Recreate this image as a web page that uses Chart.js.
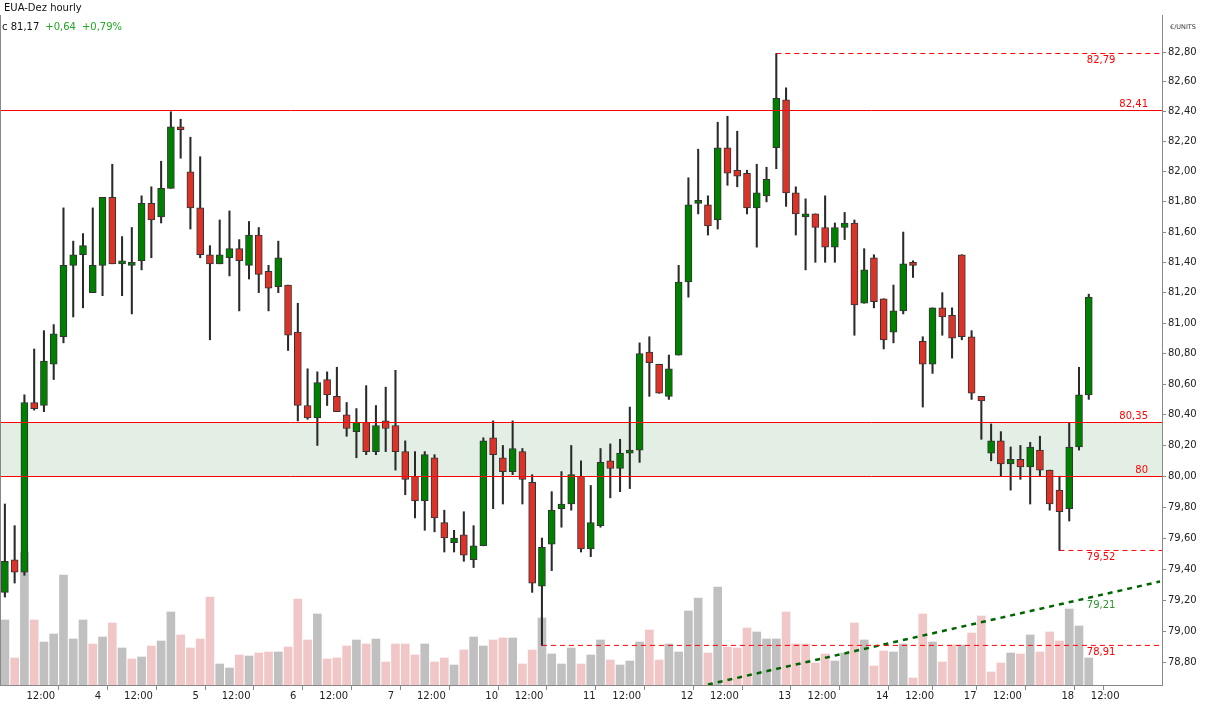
<!DOCTYPE html>
<html>
<head>
<meta charset="utf-8">
<title>EUA-Dez hourly</title>
<script src="https://cdn.jsdelivr.net/npm/chart.js@4.4.1/dist/chart.umd.min.js"></script>
<style>
  html, body { margin: 0; padding: 0; background: #fff; }
</style>
</head>
<body>
<canvas id="chart" width="1206" height="705"></canvas>
<script>
// hourly candles, index 0 = day 3 10:00, last = day 18 12:00
const opens = [
  79.25, 79.46, 79.38, 80.48, 80.46, 80.73, 80.91, 81.38, 81.45, 81.20,
  81.38, 81.83, 81.39, 81.38, 81.41, 81.79, 81.70, 81.89, 82.30, 82.00,
  81.76, 81.45, 81.39, 81.43, 81.49, 81.38, 81.58, 81.34, 81.24, 81.25,
  80.94, 80.46, 80.38, 80.63, 80.52, 80.40, 80.29, 80.35, 80.16, 80.36,
  80.33, 80.16, 80.00, 79.84, 80.12, 79.70, 79.57, 79.62, 79.46, 79.55,
  80.25, 80.12, 80.03, 80.16, 79.96, 79.29, 79.56, 79.79, 79.82, 80.00,
  79.53, 79.68, 80.10, 80.05, 80.15, 80.17, 80.81, 80.73, 80.52, 80.79,
  81.27, 81.79, 81.78, 81.68, 82.16, 82.01, 81.99, 81.76, 81.84, 82.16,
  82.48, 81.86, 81.70, 81.72, 81.63, 81.50, 81.63, 81.66, 81.13, 81.43,
  81.16, 80.94, 81.08, 81.39, 80.88, 80.73, 81.10, 81.05, 81.45, 80.91,
  80.52, 80.15, 80.23, 80.08, 80.11, 80.06, 80.17, 80.04, 79.91, 79.79,
  80.19, 80.53
];
const highs = [
  79.82, 79.68, 80.53, 80.83, 80.95, 80.99, 81.76, 81.54, 81.59, 81.76,
  81.83, 82.05, 81.57, 81.63, 81.84, 81.90, 82.07, 82.40, 82.35, 82.23,
  82.10, 81.51, 81.68, 81.74, 81.55, 81.67, 81.63, 81.38, 81.54, 81.25,
  81.13, 80.70, 80.68, 80.68, 80.71, 80.48, 80.44, 80.59, 80.46, 80.58,
  80.69, 80.23, 80.16, 80.16, 80.14, 79.78, 79.65, 79.77, 79.68, 80.25,
  80.36, 80.20, 80.36, 80.18, 80.01, 79.60, 79.90, 80.03, 80.20, 80.10,
  79.94, 80.18, 80.21, 80.24, 80.45, 80.87, 80.91, 80.73, 80.79, 81.38,
  81.96, 82.15, 81.84, 82.33, 82.37, 82.27, 82.01, 82.05, 82.03, 82.79,
  82.56, 81.90, 81.82, 81.72, 81.84, 81.66, 81.73, 81.68, 81.49, 81.45,
  81.16, 81.25, 81.60, 81.41, 80.91, 81.10, 81.20, 81.10, 81.45, 80.95,
  80.52, 80.34, 80.29, 80.19, 80.20, 80.22, 80.26, 80.04, 80.00, 80.35,
  80.71, 81.19
];
const lows = [
  79.22, 79.31, 79.36, 80.43, 80.42, 80.63, 80.87, 81.04, 81.10, 81.20,
  81.18, 81.39, 81.18, 81.06, 81.35, 81.43, 81.66, 81.89, 82.09, 81.62,
  81.43, 80.89, 81.39, 81.31, 81.08, 81.29, 81.20, 81.08, 81.20, 80.82,
  80.36, 80.37, 80.20, 80.46, 80.42, 80.26, 80.12, 80.14, 80.14, 80.16,
  80.04, 79.88, 79.73, 79.65, 79.64, 79.51, 79.51, 79.45, 79.41, 79.55,
  79.79, 79.82, 80.01, 79.82, 79.25, 78.91, 79.39, 79.67, 79.78, 79.51,
  79.48, 79.67, 79.86, 79.90, 79.92, 80.09, 80.52, 80.54, 80.50, 80.79,
  81.17, 81.72, 81.58, 81.62, 81.91, 81.90, 81.72, 81.50, 81.80, 82.02,
  81.77, 81.58, 81.35, 81.40, 81.40, 81.40, 81.55, 80.92, 81.13, 81.10,
  80.83, 80.87, 81.06, 81.30, 80.45, 80.67, 80.92, 80.77, 80.89, 80.50,
  80.24, 80.10, 80.00, 79.91, 79.98, 79.82, 80.00, 79.78, 79.52, 79.71,
  80.17, 80.50
];
const closes = [
  79.45, 79.38, 80.48, 80.44, 80.75, 80.93, 81.38, 81.45, 81.51, 81.38,
  81.83, 81.39, 81.41, 81.39, 81.79, 81.68, 81.89, 82.30, 82.28, 81.76,
  81.45, 81.39, 81.45, 81.49, 81.41, 81.58, 81.32, 81.23, 81.43, 80.92,
  80.46, 80.38, 80.61, 80.53, 80.42, 80.31, 80.35, 80.16, 80.33, 80.31,
  80.16, 79.98, 79.84, 80.14, 79.73, 79.60, 79.60, 79.49, 79.55, 80.23,
  80.14, 80.03, 80.18, 79.98, 79.31, 79.54, 79.78, 79.82, 80.01, 79.53,
  79.70, 80.09, 80.05, 80.15, 80.17, 80.80, 80.74, 80.54, 80.70, 81.27,
  81.78, 81.80, 81.64, 82.16, 81.99, 81.97, 81.76, 81.86, 81.95, 82.49,
  81.86, 81.72, 81.71, 81.63, 81.50, 81.63, 81.66, 81.12, 81.35, 81.14,
  80.89, 81.08, 81.39, 81.38, 80.73, 81.10, 81.04, 80.90, 80.91, 80.54,
  80.49, 80.23, 80.08, 80.11, 80.06, 80.19, 80.04, 79.82, 79.77, 80.19,
  80.53, 81.17
];
const volumes = [
  650, 270, 1330, 650, 430, 510, 1100, 460, 650, 410,
  480, 620, 370, 260, 280, 390, 440, 730, 500, 370,
  460, 880, 210, 170, 300, 290, 320, 330, 330, 380,
  860, 450, 710, 260, 270, 390, 450, 410, 460, 230,
  410, 410, 300, 410, 230, 270, 200, 350, 480, 390,
  450, 470, 470, 210, 350, 670, 310, 210, 370, 210,
  300, 450, 250, 200, 240, 430, 550, 250, 410, 330,
  740, 870, 320, 980, 380, 370, 570, 530, 460, 460,
  730, 410, 410, 220, 310, 240, 320, 620, 450, 190,
  340, 330, 410, 70, 710, 430, 230, 400, 400, 520,
  690, 130, 220, 320, 310, 500, 330, 530, 440, 760,
  590, 270
];

// x-axis labels at candle index
const tickPos = [2, 9, 12, 19, 22, 29, 32, 39, 42, 49, 52, 59, 62, 69, 72, 79, 82, 89, 92, 98, 101, 108, 111];
const tickText = ['12:00', '4', '12:00', '5', '12:00', '6', '12:00', '7', '12:00', '10', '12:00', '11', '12:00',
  '12', '12:00', '13', '12:00', '14', '12:00', '17', '12:00', '18', '12:00'];
const priceTicks = [78.8, 79.0, 79.2, 79.4, 79.6, 79.8, 80.0, 80.2, 80.4, 80.6, 80.8,
  81.0, 81.2, 81.4, 81.6, 81.8, 82.0, 82.2, 82.4, 82.6, 82.8];

// horizontal levels
const zoneLow = 80.00;
const zoneHigh = 80.35;
const resistance = 82.41;
const markIdx = [79, 108, 55];
const markLevel = [82.79, 79.52, 78.91];
const trendX = [72, 118.3];
const trendY = [78.66, 79.32];
const trendLabel = 79.21;

const lastClose = 81.17;
const change = 0.64;
const changePct = 0.79;

const fmt = v => v.toFixed(2).replace('.', ',');
const FONT = 'DejaVu Sans';

const idx = opens.map((_, i) => i);
const bodies = idx.map(i => ({ x: i, y: [opens[i], closes[i]] }));
const wicks = idx.map(i => ({ x: i, y: [lows[i], highs[i]] }));
const vols = idx.map(i => ({ x: i, y: volumes[i] }));
const bodyColors = idx.map(i => closes[i] >= opens[i] ? '#008000' : '#dc3328');
const volColors = idx.map(i => (i === 0 || closes[i] >= closes[i - 1]) ? '#c0c0c0' : '#f0c6c6');

const markSets = markIdx.map((m, k) => ({
  type: 'line',
  data: [{ x: m, y: markLevel[k] }, { x: 118.5, y: markLevel[k] }],
  borderColor: '#ff0000',
  borderWidth: 1,
  borderDash: [5, 4],
  pointRadius: 0,
  yAxisID: 'y'
}));

const overlay = {
  id: 'overlay',
  beforeDatasetsDraw(chart) {
    const { ctx, chartArea: a, scales: { y } } = chart;
    const t = y.getPixelForValue(zoneHigh);
    const b = y.getPixelForValue(zoneLow);
    ctx.save();
    ctx.fillStyle = '#e3eee4';
    ctx.fillRect(a.left, t, a.right - a.left, b - t);
    ctx.restore();
  },
  afterDatasetsDraw(chart) {
    const { ctx, chartArea: a, scales: { x, y } } = chart;
    ctx.save();

    // solid levels
    ctx.strokeStyle = '#ff0000';
    ctx.lineWidth = 1;
    [resistance, zoneHigh, zoneLow].forEach(v => {
      const py = Math.round(y.getPixelForValue(v)) + 0.5;
      ctx.beginPath();
      ctx.moveTo(a.left, py);
      ctx.lineTo(a.right, py);
      ctx.stroke();
    });

    // left border
    ctx.strokeStyle = '#888';
    ctx.beginPath();
    ctx.moveTo(a.left + 0.5, a.top);
    ctx.lineTo(a.left + 0.5, a.bottom);
    ctx.stroke();

    // level labels
    ctx.font = '10px "' + FONT + '"';
    ctx.fillStyle = '#ff0000';
    ctx.textAlign = 'right';
    ctx.textBaseline = 'bottom';
    [resistance, zoneHigh].forEach(v => ctx.fillText(fmt(v), a.right - 14, y.getPixelForValue(v) - 1));
    ctx.fillText('80', a.right - 14, y.getPixelForValue(zoneLow) - 1);

    const lx = x.getPixelForValue(111) - 2;
    ctx.textAlign = 'left';
    ctx.textBaseline = 'top';
    markLevel.forEach(v => ctx.fillText(fmt(v), lx, y.getPixelForValue(v) + 2));
    ctx.fillStyle = '#2e942e';
    ctx.fillText(fmt(trendLabel), lx, y.getPixelForValue(trendLabel) + 2);

    // header
    ctx.textBaseline = 'middle';
    ctx.fillStyle = '#111';
    ctx.fillText('EUA-Dez hourly', 4, 8);
    let tx = 2;
    const first = 'c ' + fmt(lastClose);
    ctx.fillText(first, tx, 27);
    tx += ctx.measureText(first).width + 6;
    ctx.fillStyle = '#22a822';
    const chg = '+' + fmt(change);
    ctx.fillText(chg, tx, 27);
    tx += ctx.measureText(chg).width + 6;
    ctx.fillText('+' + fmt(changePct) + '%', tx, 27);

    // unit
    ctx.fillStyle = '#333';
    ctx.font = '6.5px "' + FONT + '"';
    ctx.fillText('\u20ac/UNITS', a.right + 8, 27);
    ctx.restore();
  }
};

new Chart(document.getElementById('chart'), {
  type: 'bar',
  data: {
    datasets: [
      {
        data: bodies,
        backgroundColor: bodyColors,
        borderColor: '#333',
        borderWidth: 1,
        borderSkipped: false,
        barThickness: 7,
        minBarLength: 3,
        grouped: false,
        yAxisID: 'y'
      },
      {
        data: wicks,
        backgroundColor: '#2a2a2a',
        barThickness: 1.4,
        grouped: false,
        yAxisID: 'y'
      },
      ...markSets,
      {
        type: 'line',
        data: [{ x: trendX[0], y: trendY[0] }, { x: trendX[1], y: trendY[1] }],
        borderColor: '#006400',
        borderWidth: 2.5,
        borderDash: [5, 5],
        pointRadius: 0,
        yAxisID: 'y'
      },
      {
        data: vols,
        backgroundColor: volColors,
        barThickness: 8,
        grouped: false,
        yAxisID: 'yv'
      }
    ]
  },
  options: {
    responsive: false,
    animation: false,
    devicePixelRatio: 1,
    layout: { padding: { top: 15, left: 0, right: 0, bottom: 0 } },
    plugins: {
      legend: { display: false },
      tooltip: { enabled: false }
    },
    scales: {
      x: {
        type: 'linear',
        min: -0.5,
        max: 118.5,
        offset: false,
        afterBuildTicks: s => { s.ticks = tickPos.map(v => ({ value: v })); },
        afterFit: s => { s.height = 20; },
        grid: { drawOnChartArea: false, tickLength: 5, color: '#888' },
        border: { display: true, color: '#888' },
        ticks: {
          autoSkip: false,
          maxRotation: 0,
          minRotation: 0,
          align: 'start',
          labelOffset: 2,
          padding: 0,
          color: '#222',
          font: { family: FONT, size: 10 },
          callback: v => tickText[tickPos.indexOf(v)]
        }
      },
      y: {
        type: 'logarithmic',
        position: 'right',
        min: 78.657,
        max: 83.049,
        afterBuildTicks: s => { s.ticks = priceTicks.map(v => ({ value: v })); },
        afterFit: s => { s.width = 44; },
        grid: { drawOnChartArea: false, tickLength: 4, color: '#888' },
        border: { display: true, color: '#888' },
        ticks: {
          autoSkip: false,
          padding: 2,
          color: '#222',
          font: { family: FONT, size: 10 },
          callback: v => fmt(v)
        }
      },
      yv: {
        type: 'linear',
        display: false,
        min: 0,
        max: 6700
      }
    }
  },
  plugins: [overlay]
});
</script>
</body>
</html>
